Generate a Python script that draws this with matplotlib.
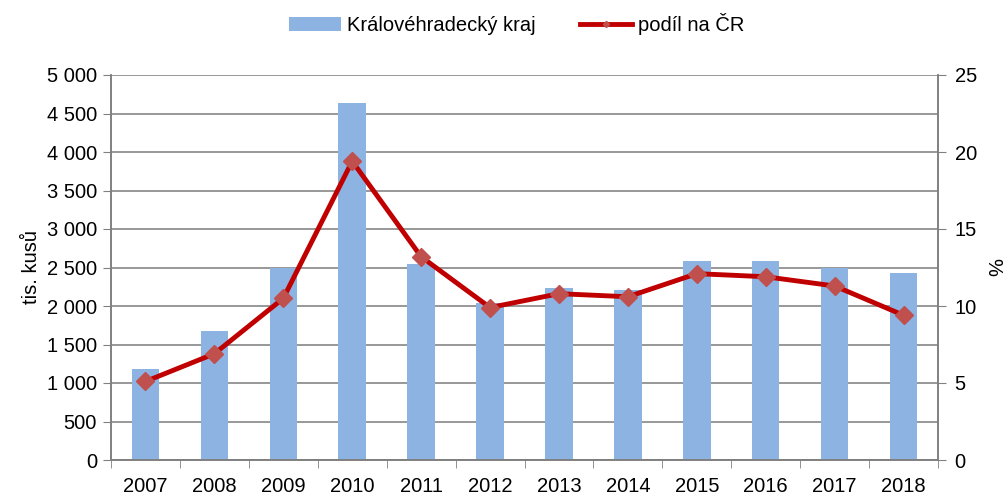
import numpy as np
import matplotlib.pyplot as plt
from matplotlib.ticker import FuncFormatter

plt.rcParams['font.family'] = ['Liberation Sans', 'DejaVu Sans']

roky = ['2007', '2008', '2009', '2010', '2011', '2012', '2013', '2014', '2015', '2016', '2017', '2018']
kusy = [1180, 1680, 2500, 4640, 2550, 2040, 2240, 2210, 2580, 2580, 2490, 2430]
podil = [5.1, 6.9, 10.5, 19.4, 13.2, 9.9, 10.8, 10.6, 12.1, 11.9, 11.3, 9.4]

fig = plt.figure(figsize=(10.07, 4.95), dpi=100)
ax = fig.add_axes([111 / 1007, 35 / 495, 827 / 1007, 385 / 495])
ax2 = ax.twinx()

x = np.arange(len(roky))
ax.bar(x, kusy, width=0.4, color='#8DB3E2', zorder=2, label='Královéhradecký kraj')
ax2.plot(x, podil, color='#C00000', lw=3.5, marker='D', ms=9,
         markerfacecolor='#C0504D', markeredgecolor='#C0504D', zorder=3, label='podíl na ČR')

ax.set_xlim(-0.5, len(roky) - 0.5)
ax.set_ylim(0, 5000)
ax2.set_ylim(0, 25)
ax.set_yticks(np.arange(0, 5001, 500))
ax2.set_yticks(np.arange(0, 26, 5))
ax.yaxis.set_major_formatter(FuncFormatter(lambda v, p: f'{int(v):,}'.replace(',', ' ')))

fs = 14.5
ax.set_xticks(x)
ax.set_xticklabels(roky)
ax.set_xticks(np.arange(-0.5, len(roky), 1), minor=True)
ax.tick_params(axis='x', which='major', length=0, labelsize=fs, pad=12)
ax.tick_params(axis='x', which='minor', length=6, color='#808080', direction='out')
ax.tick_params(axis='y', length=6, color='#808080', labelsize=fs, pad=4)
ax2.tick_params(axis='y', length=6, color='#808080', labelsize=fs, pad=6)

ax.grid(axis='y', color='#868686', lw=1.2, zorder=0)
ax.set_axisbelow(True)
for a in (ax, ax2):
    a.spines['top'].set_visible(False)
    for s in ('left', 'right', 'bottom'):
        a.spines[s].set_color('#808080')
        a.spines[s].set_linewidth(1.2)

ax.set_ylabel('tis. kusů', fontsize=fs, labelpad=4)
ax2.set_ylabel('%', fontsize=fs, rotation=270, labelpad=18)

h1, l1 = ax.get_legend_handles_labels()
h2, l2 = ax2.get_legend_handles_labels()
fig.legend(h1 + h2, l1 + l2, loc='center', bbox_to_anchor=(0.513, 0.952), ncol=2,
           frameon=False, fontsize=fs, handlelength=2.6, handletextpad=0.3,
           columnspacing=2.2, markerscale=0.35)

fig.savefig('out.png', dpi=100)
